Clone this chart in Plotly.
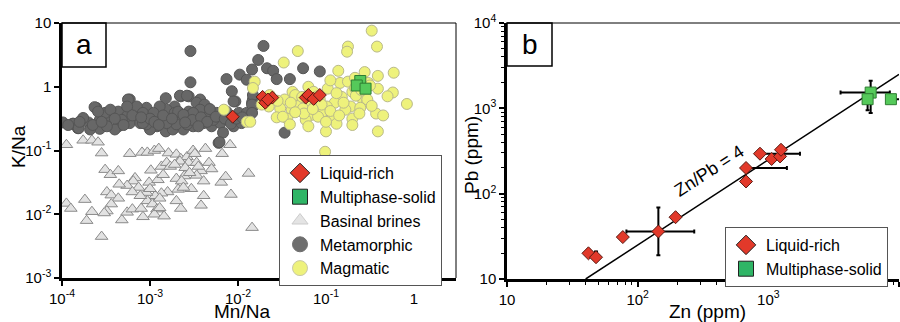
import numpy as np
import plotly.graph_objects as go

# ---------------- Panel a data (log10 values) ----------------
meta_log_mn = [-2.54,-2.54,-3.23,-1.71,-1.77,-1.84,-1.98,-2.13,-1.90,-1.67,-1.60,-1.56,-1.41,-1.26,-1.07,
               -2.03,-1.83,-1.83,-1.47,-2.22,-2.65,-2.56,-2.82,-2.43,-3.61,-3.99,-3.88,-3.82,
               -3.87,-3.81,-3.70,-3.63,-3.57,-3.57,-3.45,-3.36,-3.36,-3.25,-3.23,-3.13,-3.11,-3.04,-3.02,
               -2.92,-2.91,-2.82,-2.77,-2.72,-2.66,-2.66,-2.58,-2.56,-2.51,-2.47,-2.47,-2.38,-2.36,-2.30,
               -2.24,-2.20,-2.17,-2.21,-2.11,-2.07,-2.05,-1.99,-1.84,-1.83,-2.62,-2.74,-3.00,-3.26,
               -3.40,-3.76,-3.51,-3.04,-2.89,-2.81,-2.70,-2.58,-2.43,-2.32,-2.28,-2.13,-2.05,-1.96,-2.89,
               -3.15,-3.26,-3.08,-3.32,-3.68,-3.49,-2.58,-2.72,-2.96,-2.39,-2.51,-2.68,-2.81,-3.08,-3.45,
               -3.59,-1.90,-1.84,-1.84,-3.93,-3.80,-3.65,-3.55,-3.40,-3.30,-3.20,-3.00,-2.95,-2.85,-2.75,
               -2.62,-2.52,-2.42,-2.35,-2.25,-2.15,-2.08,-2.02,-1.95,-2.90,-3.10,-2.60,-2.45]
meta_log_k = [0.56,0.07,-0.20,0.64,0.42,0.27,0.19,0.12,0.11,0.29,0.25,0.12,0.12,0.29,0.24,
              -0.23,-0.20,-0.31,-0.72,-0.88,-0.15,-0.15,-0.18,-0.20,-0.33,-0.56,-0.58,-0.65,
              -0.58,-0.65,-0.56,-0.32,-0.52,-0.66,-0.47,-0.39,-0.62,-0.20,-0.57,-0.41,-0.57,-0.33,-0.49,
              -0.62,-0.41,-0.70,-0.46,-0.31,-0.14,-0.52,-0.14,-0.39,-0.62,-0.25,-0.52,-0.28,-0.46,-0.62,
              -0.41,-0.57,-0.72,-0.87,-0.52,-0.07,-0.23,-0.41,-0.25,-0.13,-0.67,-0.67,-0.67,-0.46,
              -0.67,-0.49,-0.41,-0.59,-0.52,-0.36,-0.59,-0.59,-0.36,-0.35,-0.52,-0.39,-0.62,-0.57,-0.31,
              -0.31,-0.31,-0.41,-0.52,-0.67,-0.62,-0.46,-0.41,-0.41,-0.57,-0.41,-0.39,-0.57,-0.57,-0.36,
              -0.39,-0.41,-0.28,-0.41,-0.60,-0.55,-0.60,-0.55,-0.50,-0.60,-0.45,-0.50,-0.55,-0.45,-0.50,
              -0.44,-0.52,-0.48,-0.55,-0.47,-0.50,-0.58,-0.50,-0.48,-0.60,-0.48,-0.56,-0.62]

mag_log_mn = [-0.48,-0.75,-0.76,-0.42,-1.32,-1.48,-0.86,-0.56,-0.41,-0.23,-0.98,-0.84,-0.75,-0.70,-0.52,
              -0.41,-0.24,-0.08,-0.58,-0.53,-0.82,-0.90,-0.72,-0.99,-1.05,-0.93,-0.88,-1.00,-0.70,-0.43,
              -0.35,-0.41,-1.38,-1.47,-1.33,-1.18,-1.13,-1.39,-1.52,-1.56,-1.44,-1.16,-1.09,-1.31,-1.26,
              -1.20,-1.35,-1.65,-1.81,-1.83,-2.16,-1.90,-1.86,-1.01,-1.49,-1.27,-0.67,-0.67,-0.56,-0.53,
              -0.66,-1.07,-1.14,-0.78,-0.61,-1.23,-1.41,-1.64,-1.73,
              -1.40,-1.25,-1.05,-0.95,-0.80,-0.62,-0.48,-1.55,-1.10,-0.88,-0.70,-1.20,-0.30,-0.50,-0.95,
              -1.00,-1.35,-0.60,-0.85,-1.15]
mag_log_k = [0.88,0.63,0.55,0.63,0.56,0.38,0.25,0.23,0.17,0.22,-0.03,0.06,0.08,-0.08,0.06,
             -0.03,-0.09,-0.27,-0.20,-0.23,-0.16,-0.25,-0.31,-0.31,-0.41,-0.47,-0.58,-0.70,-0.50,-0.42,
             -0.45,-0.70,-0.08,-0.20,-0.17,-0.23,-0.31,-0.36,-0.34,-0.48,-0.50,-0.44,-0.47,-0.30,-0.34,
             0.00,-0.13,-0.31,0.08,-0.02,-0.36,-0.55,-0.55,-1.02,-0.47,-0.16,0.14,-0.02,-0.09,-0.20,
             -0.14,-0.20,-0.08,-0.36,-0.33,-0.52,-0.59,-0.13,-0.28,
             -0.25,-0.42,-0.28,-0.38,-0.25,-0.42,-0.30,-0.22,-0.15,-0.10,-0.60,-0.62,-0.15,0.02,0.10,
             -0.55,-0.40,-0.05,-0.45,-0.35]

brine_log_mn = [-3.95,-3.76,-3.66,-3.59,-3.55,-3.23,-3.09,-3.03,-2.95,-2.90,-2.79,-2.70,-2.65,-2.58,
                -2.51,-2.49,-2.37,-2.18,-2.09,-1.88,-3.51,-3.45,-3.36,-2.99,-2.87,-2.81,-2.77,-2.66,
                -2.56,-2.47,-2.33,-2.30,-2.42,-2.47,-2.61,-2.70,-2.64,-3.17,-3.19,-3.26,-3.35,-3.01,
                -2.91,-2.39,-2.19,-2.14,-2.53,-2.68,-2.80,-2.87,-2.94,-3.04,-3.13,-3.20,-3.49,-3.44,
                -3.36,-3.44,-3.49,-3.52,-3.74,-3.95,-3.90,-3.66,-3.72,-3.55,-3.32,-3.26,-3.20,-3.08,
                -3.10,-3.03,-2.97,-2.92,-2.95,-2.89,-2.84,-2.70,-2.65,-2.42,-2.39,-2.08,-1.84,-3.11,
                -2.89,-2.72,-2.60,-2.55,-2.85,-2.45,-2.62,-3.00]
brine_log_k = [-0.91,-0.84,-0.84,-0.87,-1.04,-1.05,-1.03,-1.03,-1.00,-0.97,-1.04,-1.06,-1.13,-1.10,
               -1.00,-1.05,-0.97,-1.05,-0.91,-1.36,-1.30,-1.38,-1.32,-1.31,-1.25,-1.19,-1.25,-1.17,
               -1.19,-1.19,-1.19,-1.29,-1.32,-1.39,-1.40,-1.44,-1.48,-1.43,-1.48,-1.55,-1.53,-1.50,
               -1.46,-1.48,-1.50,-1.41,-1.60,-1.61,-1.65,-1.67,-1.71,-1.66,-1.58,-1.65,-1.65,-1.70,
               -1.75,-1.84,-1.95,-1.98,-1.77,-1.83,-1.91,-1.96,-2.10,-2.35,-2.09,-1.97,-1.92,-2.04,
               -1.91,-1.79,-1.84,-1.92,-2.00,-1.90,-2.03,-1.79,-1.91,-1.86,-1.71,-1.69,-2.21,-1.71,
               -1.75,-1.22,-1.27,-1.35,-1.38,-1.25,-1.58,-1.60]

liq_log_mn = [-2.06,-1.72,-1.69,-1.61,-1.66,-1.23,-1.20,-1.14,-1.07]
liq_log_k = [-0.47,-0.16,-0.25,-0.17,-0.20,-0.17,-0.13,-0.19,-0.13]

multi_log_mn = [-0.61,-0.65,-0.55]
multi_log_k = [0.09,0.02,-0.03]

# ---------------- Panel b data (ppm) ----------------
liq_zn = [42, 48, 77, 144, 195, 675, 675, 863, 1060, 1230, 1250]
liq_pb = [20, 18, 31, 36, 53, 200, 139, 294, 255, 273, 327]
liq_zn_plus = [0, 0, 0, 127, 0, 712, 0, 883, 0, 0, 0]
liq_zn_minus = [0, 0, 0, 62, 0, 0, 0, 0, 0, 0, 0]
liq_pb_plus = [2, 3, 0, 33, 0, 0, 0, 0, 0, 0, 0]
liq_pb_minus = [0, 0, 0, 17, 0, 0, 15, 0, 0, 0, 0]

multi_zn = [6070, 5750, 8670]
multi_pb = [1530, 1280, 1280]
multi_zn_plus = [2440, 0, 2000]
multi_zn_minus = [2500, 0, 0]
multi_pb_plus = [580, 0, 0]
multi_pb_minus = [650, 330, 0]

zn_pb_ratio = 4
line_zn = [40, 10000]

a_xticks = [1e-4, 1e-3, 1e-2, 1e-1, 1]
a_xtext = ["10<sup>-4</sup>", "10<sup>-3</sup>", "10<sup>-2</sup>", "10<sup>-1</sup>", "1"]
a_yticks = [1e-3, 1e-2, 1e-1, 1, 10]
a_ytext = ["10<sup>-3</sup>", "10<sup>-2</sup>", "10<sup>-1</sup>", "1", "10"]
b_ticks = [10, 100, 1000, 10000]
b_text = ["10", "10<sup>2</sup>", "10<sup>3</sup>", "10<sup>4</sup>"]

W, H = 900, 322
FONT = "Arial, Liberation Sans, sans-serif"

def fx(px):
    return px / W

def fy(py):
    return 1 - py / H

RED = "#e2392a"
RED_LINE = "#5a1a12"
GREEN = "#55c95a"
GREEN_LINE = "#2e7d32"
LEG_GREEN = "#2fb566"
META = "#676767"
MAG = "#eef27c"
BRINE = "#e2e2e2"

p = lambda v: 10 ** np.array(v)

fig = go.Figure()

# ---- panel a data marks ----
fig.add_trace(go.Scatter(x=p(brine_log_mn), y=p(brine_log_k), mode="markers", showlegend=False,
                         marker=dict(symbol="triangle-up", size=11, color=BRINE, line=dict(color="#8a8a8a", width=1)),
                         xaxis="x", yaxis="y"))
fig.add_trace(go.Scatter(x=p(meta_log_mn), y=p(meta_log_k), mode="markers", showlegend=False,
                         marker=dict(symbol="circle", size=11, color=META, line=dict(color="#555555", width=1)),
                         xaxis="x", yaxis="y"))
fig.add_trace(go.Scatter(x=p(mag_log_mn), y=p(mag_log_k), mode="markers", showlegend=False,
                         marker=dict(symbol="circle", size=11, color=MAG, line=dict(color="#b9b98a", width=1)),
                         xaxis="x", yaxis="y"))
fig.add_trace(go.Scatter(x=p(liq_log_mn), y=p(liq_log_k), mode="markers", showlegend=False,
                         marker=dict(symbol="diamond", size=10, color=RED, line=dict(color=RED_LINE, width=1)),
                         xaxis="x", yaxis="y"))
fig.add_trace(go.Scatter(x=p(multi_log_mn), y=p(multi_log_k), mode="markers", showlegend=False,
                         marker=dict(symbol="square", size=11, color=GREEN, line=dict(color=GREEN_LINE, width=1)),
                         xaxis="x", yaxis="y"))

# ---- panel a legend entries (legend glyphs only) ----
leg_a = [
    ("Liquid-rich", dict(symbol="diamond", size=15, color=RED, line=dict(color="#222222", width=1))),
    ("Multiphase-solid", dict(symbol="square", size=15, color=LEG_GREEN, line=dict(color="#222222", width=1))),
    ("Basinal brines", dict(symbol="triangle-up", size=14, color="#e4e4e4", line=dict(color="#cccccc", width=1))),
    ("Metamorphic", dict(symbol="circle", size=15, color="#6e6e6e", line=dict(color="#6e6e6e", width=1))),
    ("Magmatic", dict(symbol="circle", size=15, color="#eef27c", line=dict(color="#c9c9a8", width=1))),
]
for i, (nm, mk) in enumerate(leg_a):
    fig.add_trace(go.Scatter(x=[None], y=[None], mode="markers", name=nm, marker=mk,
                             xaxis="x", yaxis="y", legend="legend", legendrank=i + 1))

# ---- panel b ----
fig.add_trace(go.Scatter(x=line_zn, y=[z / zn_pb_ratio for z in line_zn], mode="lines",
                         line=dict(color="black", width=1.5), showlegend=False, xaxis="x2", yaxis="y2"))
fig.add_trace(go.Scatter(x=liq_zn, y=liq_pb, mode="markers", showlegend=False,
                         marker=dict(symbol="diamond", size=10, color=RED, line=dict(color=RED_LINE, width=1)),
                         error_x=dict(type="data", symmetric=False, array=liq_zn_plus, arrayminus=liq_zn_minus,
                                      color="black", thickness=2, width=2),
                         error_y=dict(type="data", symmetric=False, array=liq_pb_plus, arrayminus=liq_pb_minus,
                                      color="black", thickness=2, width=2),
                         xaxis="x2", yaxis="y2"))
fig.add_trace(go.Scatter(x=multi_zn, y=multi_pb, mode="markers", showlegend=False,
                         marker=dict(symbol="square", size=11, color=GREEN, line=dict(color=GREEN_LINE, width=1)),
                         error_x=dict(type="data", symmetric=False, array=multi_zn_plus, arrayminus=multi_zn_minus,
                                      color="black", thickness=2, width=2),
                         error_y=dict(type="data", symmetric=False, array=multi_pb_plus, arrayminus=multi_pb_minus,
                                      color="black", thickness=2, width=2),
                         xaxis="x2", yaxis="y2"))
for i, (nm, mk) in enumerate(leg_a[:2]):
    fig.add_trace(go.Scatter(x=[None], y=[None], mode="markers", name=nm, marker=mk,
                             xaxis="x2", yaxis="y2", legend="legend2", legendrank=i + 1))

axis_common = dict(type="log", showgrid=False, zeroline=False, showline=True, linecolor="black", linewidth=2.5,
                   ticks="outside", ticklen=5, tickwidth=2, tickcolor="black", automargin=False,
                   tickfont=dict(family=FONT, size=15, color="black"))

minor_b = [m * 10 ** d for d in range(1, 4) for m in range(2, 10)]

leg_common = dict(xanchor="left", yanchor="top", bgcolor="white", bordercolor="#555555", borderwidth=1,
                  font=dict(family=FONT, size=16, color="black"), itemsizing="trace", tracegroupgap=0)

fig.update_layout(
    width=W, height=H, margin=dict(l=0, r=0, t=0, b=0, pad=0, autoexpand=False),
    paper_bgcolor="white", plot_bgcolor="white",
    font=dict(family=FONT, size=15, color="black"),
    xaxis=dict(axis_common, domain=[fx(62), fx(456)], range=[-4, 0.478], tickvals=a_xticks, ticktext=a_xtext,
               anchor="y"),
    yaxis=dict(axis_common, domain=[fy(278), fy(23)], range=[-3, 1], tickvals=a_yticks, ticktext=a_ytext,
               anchor="x"),
    xaxis2=dict(axis_common, domain=[fx(507), fx(899)], range=[1, 4], tickvals=b_ticks, ticktext=b_text,
                anchor="y2", minor=dict(tickvals=minor_b, ticks="outside", ticklen=3, tickwidth=1, tickcolor="black")),
    yaxis2=dict(axis_common, domain=[fy(279), fy(23)], range=[1, 4], tickvals=b_ticks, ticktext=b_text,
                anchor="x2", minor=dict(tickvals=minor_b, ticks="outside", ticklen=3, tickwidth=1, tickcolor="black")),
    legend=dict(leg_common, x=fx(279), y=fy(155)),
    legend2=dict(leg_common, x=fx(725), y=fy(227)),
    showlegend=True,
)

shapes = [
    dict(type="line", xref="paper", yref="paper", x0=fx(62), x1=fx(456), y0=fy(23), y1=fy(23),
         line=dict(color="black", width=1)),
    dict(type="line", xref="paper", yref="paper", x0=fx(456), x1=fx(456), y0=fy(23), y1=fy(278),
         line=dict(color="black", width=1)),
    dict(type="line", xref="paper", yref="paper", x0=fx(507), x1=1, y0=fy(23), y1=fy(23),
         line=dict(color="black", width=1)),
    dict(type="rect", xref="paper", yref="paper", x0=fx(62), x1=fx(106), y0=fy(67), y1=fy(23),
         line=dict(color="black", width=1.5), fillcolor="white", layer="below"),
    dict(type="rect", xref="paper", yref="paper", x0=fx(507), x1=fx(552), y0=fy(66), y1=fy(23),
         line=dict(color="black", width=1.5), fillcolor="white", layer="below"),
]
fig.update_layout(shapes=shapes)

def label(text, x, y, size, angle=0):
    return dict(text=text, x=fx(x), y=fy(y), xref="paper", yref="paper", showarrow=False, textangle=angle,
                xanchor="center", yanchor="middle", font=dict(family=FONT, size=size, color="black"))

ann = [
    label("a", 84, 44, 28),
    label("b", 530, 44, 28),
    label("K/Na", 18, 147, 19, -90),
    label("Mn/Na", 242, 311, 19),
    label("Pb (ppm)", 471, 155, 19, -90),
    label("Zn (ppm)", 707, 311, 19),
    label("Zn/Pb = 4", 709, 171, 18, -33),
]
fig.update_layout(annotations=ann)

fig.write_html("out.html", config={"displayModeBar": False},
               post_script="document.body.style.margin='0';document.body.style.overflow='hidden';")
